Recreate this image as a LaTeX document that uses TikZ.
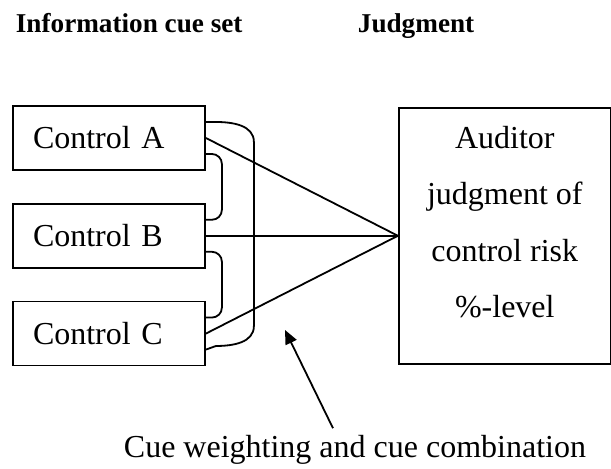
\documentclass[tikz,border=0pt]{standalone}
\usepackage{fontspec}
\setmainfont{Liberation Serif}
\usetikzlibrary{positioning,arrows.meta}

\begin{document}
\begin{tikzpicture}[
    x=0.5pt, y=0.5pt, line width=0.9pt,
    heading/.style={font=\fontsize{13.6}{16}\selectfont\bfseries, inner sep=0pt,
        anchor=base west},
    control/.style={rectangle, draw, text width=76pt, inner xsep=10pt,
        minimum height=32pt, align=left, font=\fontsize{16}{19}\selectfont},
    judgment/.style={rectangle, draw, minimum width=106pt, minimum height=128pt},
    judgtext/.style={align=center, font=\fontsize{16}{28.2}\selectfont},
    bracket/.style={rounded corners=5pt},
    cuearrow/.style={-{Triangle[length=7pt,width=6pt]}}
]
\useasboundingbox (0,0) rectangle (611,469);

\node (cueset) [heading] at (15,436) {Information cue set};
\node (judghead) [heading] at (357,436) {Judgment};

\node (ctrlA) [control] at (109,331) {Control A};
\node (ctrlB) [control, below=16pt of ctrlA] {Control B};
\node (ctrlC) [control, below=16pt of ctrlB] {Control C};

\node (judge) [judgment, right=96pt of ctrlB] {};
\node (judgetext) [judgtext, yshift=6.75pt] at (judge.center)
  {Auditor\\judgment of\\control risk\\\%-level};
\coordinate (hub) at (judge.west);

\draw (ctrlA.east) -- (hub);
\draw (ctrlB.east) -- (hub);
\draw (ctrlC.east) -- (hub);

\draw[bracket] ([yshift=-8pt]ctrlA.east) -- ++(8pt,0) |- ([yshift=8pt]ctrlB.east);
\draw[bracket] ([yshift=-8pt]ctrlB.east) -- ++(8pt,0) |- ([yshift=8pt]ctrlC.east);
\draw ([yshift=8pt]ctrlA.east) -- ++(5pt,0) to[out=0,in=90] ++(19pt,-10pt)
  -- ++(0,-92pt) to[out=-90,in=0] ++(-19pt,-10pt) -- ([yshift=-8pt]ctrlC.east);

\node (cue) [font=\fontsize{16}{19}\selectfont, anchor=base] at (355,11)
  {Cue weighting and cue combination};
\coordinate (cuetip) at (285,139);
\draw[cuearrow] ([xshift=-11pt]cue.north) -- (cuetip);

\end{tikzpicture}
\end{document}
